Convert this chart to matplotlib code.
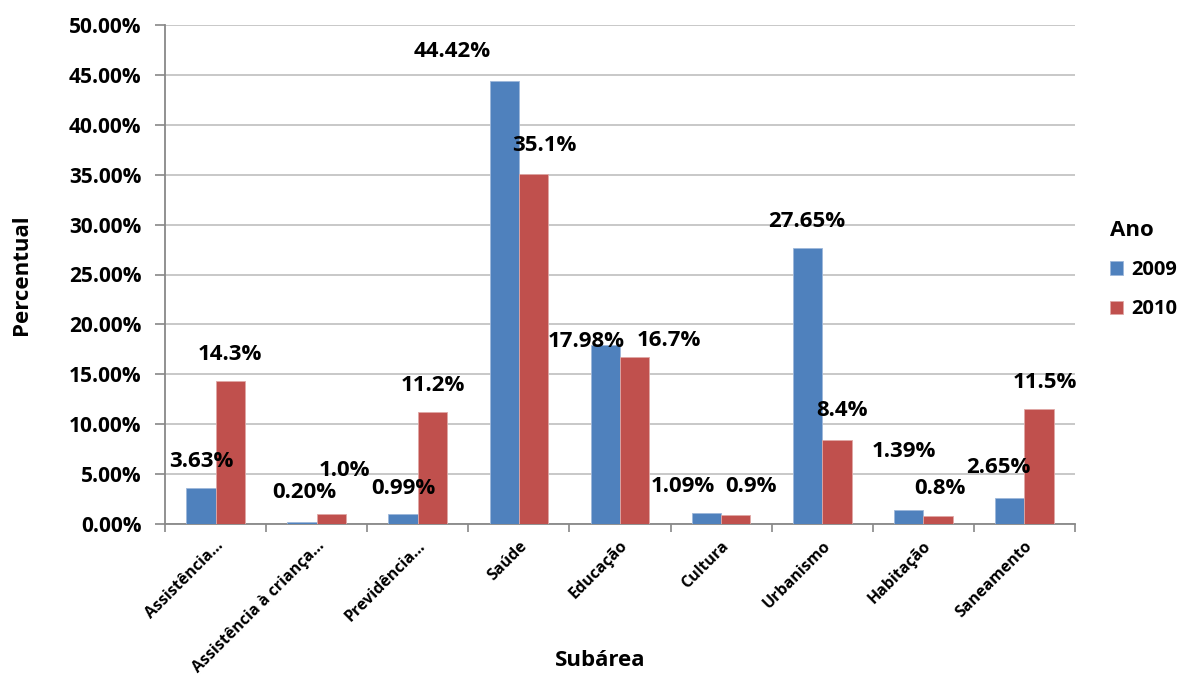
import numpy as np
import matplotlib.pyplot as plt
from matplotlib.ticker import FuncFormatter, FixedLocator

plt.rcParams['font.family'] = ['Open Sans', 'DejaVu Sans']
plt.rcParams['font.weight'] = 'bold'

categories = ['Assistência…', 'Assistência à criança…', 'Previdência…', 'Saúde',
              'Educação', 'Cultura', 'Urbanismo', 'Habitação', 'Saneamento']
v2009 = [3.63, 0.20, 0.99, 44.42, 17.98, 1.09, 27.65, 1.39, 2.65]
v2010 = [14.3, 1.0, 11.2, 35.1, 16.7, 0.9, 8.4, 0.8, 11.5]
lab2009 = ['3.63%', '0.20%', '0.99%', '44.42%', '17.98%', '1.09%', '27.65%', '1.39%', '2.65%']
lab2010 = ['14.3%', '1.0%', '11.2%', '35.1%', '16.7%', '0.9%', '8.4%', '0.8%', '11.5%']

# label offsets from the bar top (pixels), as hand-placed in the original
off2009 = [(0, 26), (2, 30), (0, 26), (-52, 29), (-19, 3), (-24, 27), (-1, 27), (-5, 59), (-11, 30)]
off2010 = [(0, 27), (13, 44), (0, 27), (11, 28), (34, 17), (15, 29), (5, 30), (2, 28), (6, 27)]

blue = '#4F81BD'
red = '#C0504D'

W, H = 1181, 679
fig = plt.figure(figsize=(W / 100, H / 100), dpi=100)
ax = fig.add_axes([165 / W, 1 - 524 / H, (1075 - 165) / W, (524 - 25) / H])

x = np.arange(len(categories))
w = 0.29
b1 = ax.bar(x - w / 2, v2009, w, color=blue, label='2009', zorder=3,
            edgecolor='#9DB7DA', linewidth=0.6)
b2 = ax.bar(x + w / 2, v2010, w, color=red, label='2010', zorder=3,
            edgecolor='#E0A8A6', linewidth=0.6)

for bars, labs, offs in ((b1, lab2009, off2009), (b2, lab2010, off2010)):
    for rect, lab, (dx, dy) in zip(bars, labs, offs):
        ax.annotate(lab, (rect.get_x() + rect.get_width() / 2, rect.get_height()),
                    xytext=(dx, dy), textcoords='offset pixels',
                    ha='center', va='center', fontsize=16, fontweight='bold', zorder=4)

ax.set_xlim(-0.5, len(categories) - 0.5)
ax.set_ylim(0, 50)
ax.set_yticks(np.arange(0, 50.1, 5))
ax.yaxis.set_major_formatter(FuncFormatter(lambda v, p: f'{v:.2f}%'))
ax.grid(axis='y', color='#BFBFBF', linewidth=1.2, zorder=0)

ax.set_xticks(x)
ax.set_xticklabels(categories, rotation=45, ha='right', rotation_mode='anchor', fontsize=11.5)
ax.tick_params(axis='x', length=0, pad=10)
ax.xaxis.set_minor_locator(FixedLocator(np.arange(-0.5, len(categories), 1)))
ax.tick_params(axis='x', which='minor', length=6, color='#888888', width=1.2)
ax.tick_params(axis='y', length=7, color='#888888', width=1.2, labelsize=15, pad=10)

for s in ['top', 'right']:
    ax.spines[s].set_visible(False)
for s in ['left', 'bottom']:
    ax.spines[s].set_color('#888888')
    ax.spines[s].set_linewidth(1.3)

ax.set_ylabel('Percentual', fontsize=16, fontweight='bold')
ax.yaxis.set_label_coords((32 - 165) / (1075 - 165), 0.5)
ax.set_xlabel('Subárea', fontsize=16, fontweight='bold')
ax.xaxis.set_label_coords((600 - 165) / (1075 - 165), -(650 - 524) / 499)

leg = fig.legend(*ax.get_legend_handles_labels(), title='Ano', loc='upper left',
                 bbox_to_anchor=(1100 / W, 1 - 210 / H), frameon=False,
                 fontsize=14.5, title_fontsize=16, handlelength=0.65, handleheight=0.65,
                 handletextpad=0.4, labelspacing=0.95, borderpad=0)
leg.get_title().set_fontweight('bold')
leg._legend_box.align = 'left'

fig.savefig('out.png', dpi=100)
